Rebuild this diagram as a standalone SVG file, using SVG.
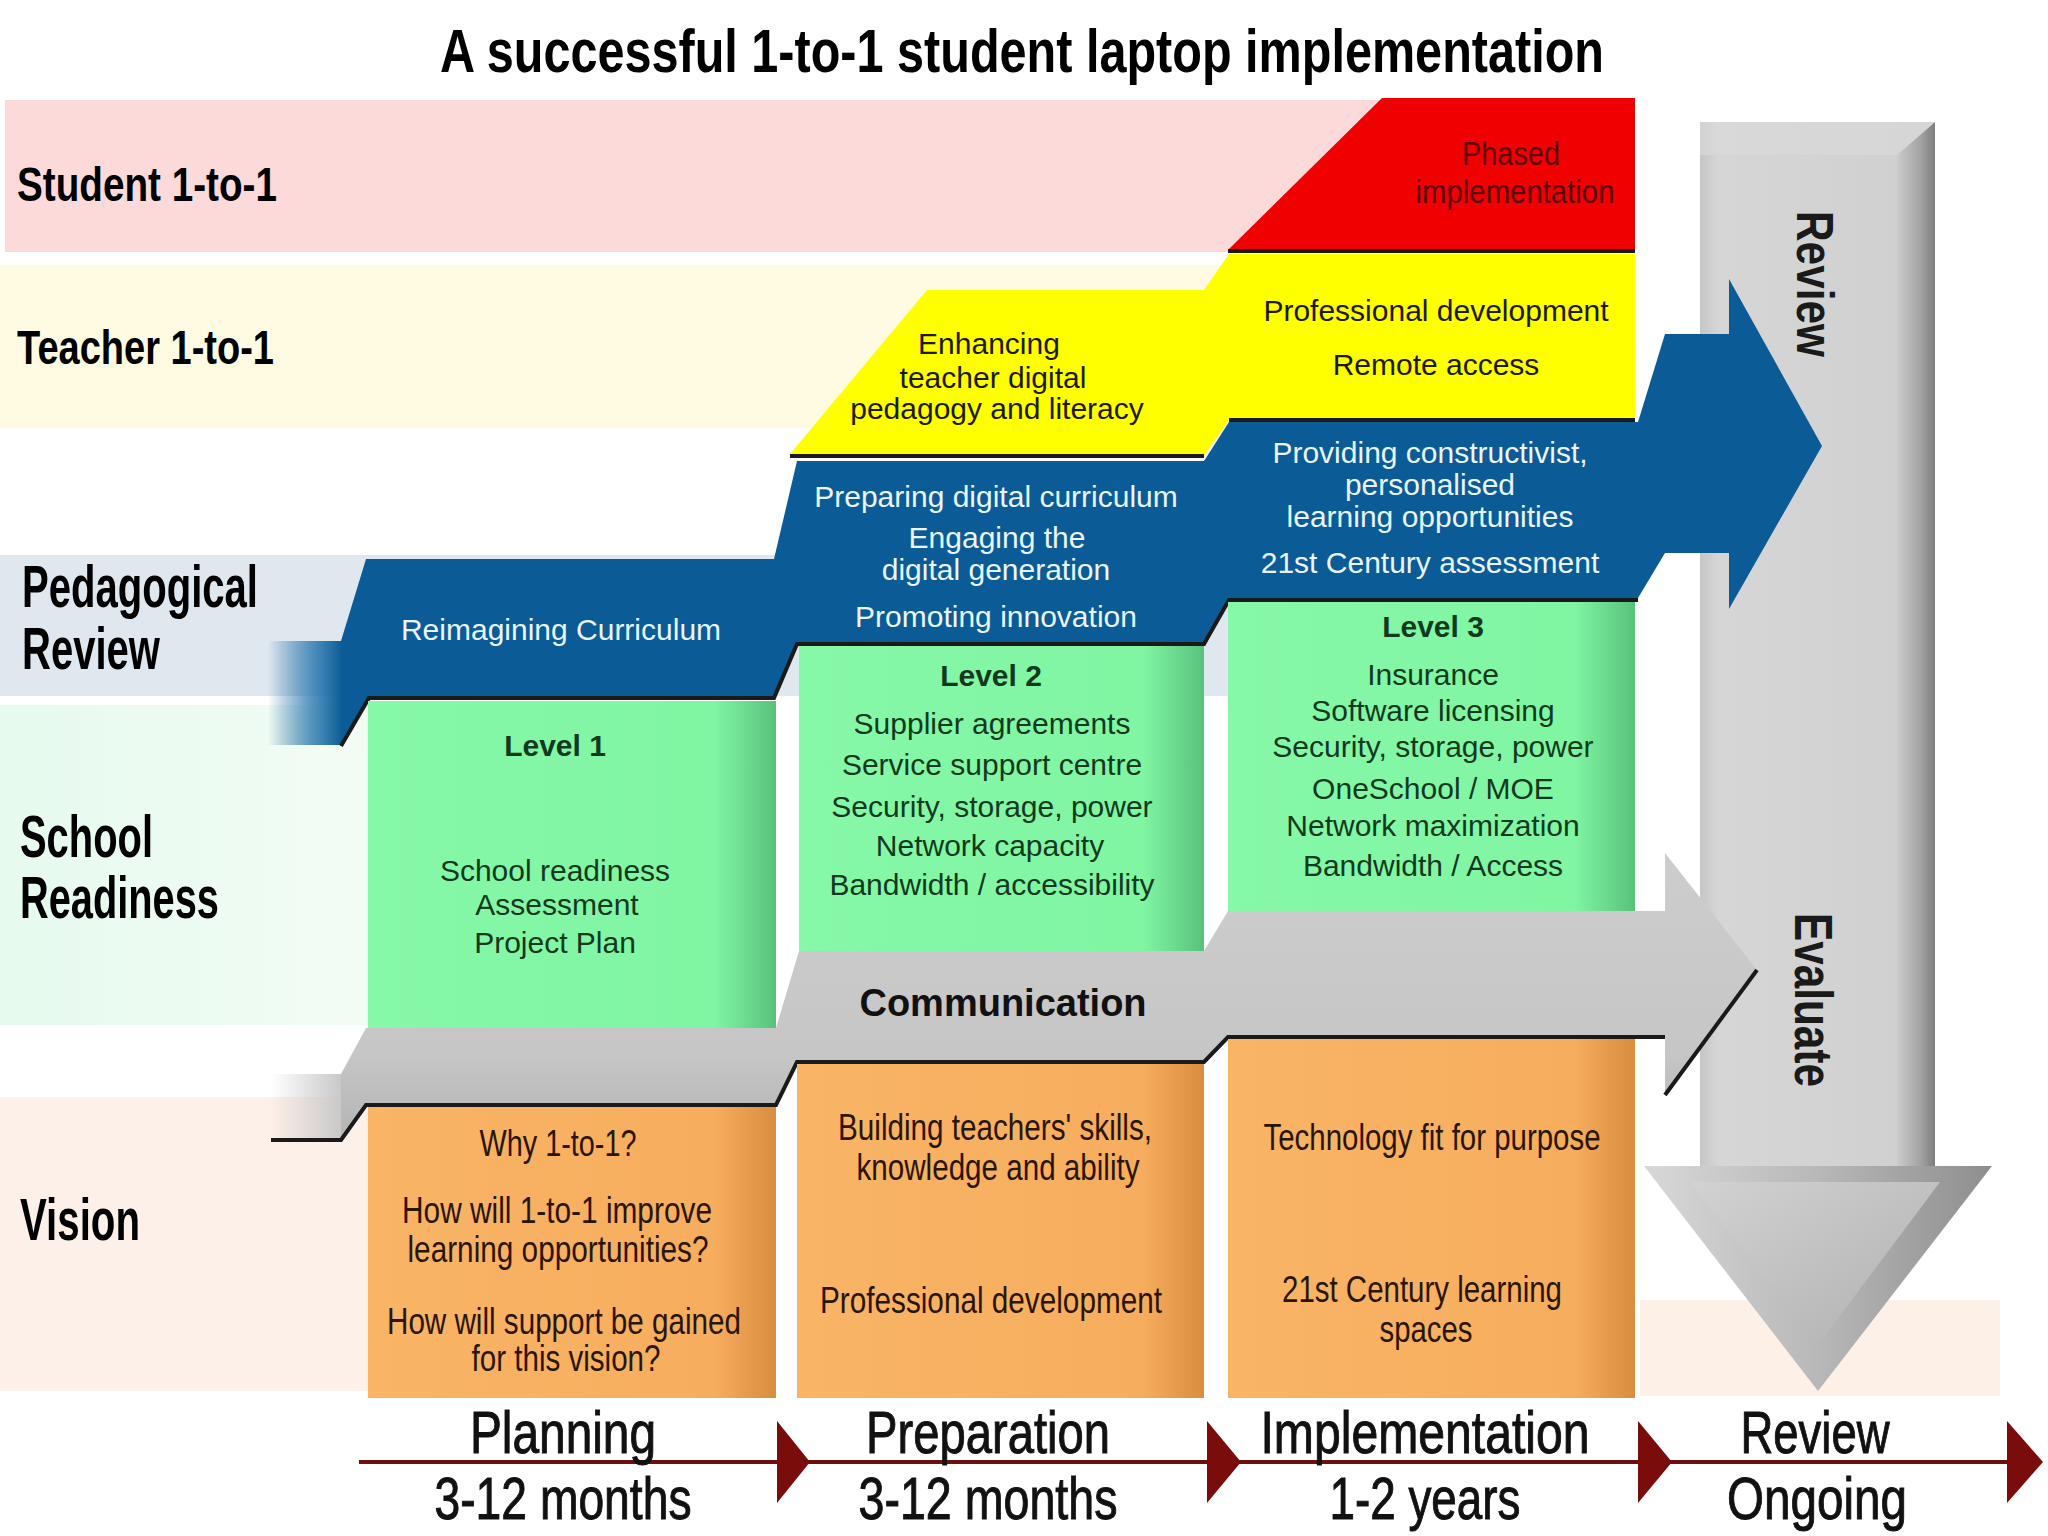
<svg xmlns="http://www.w3.org/2000/svg" width="2048" height="1536" viewBox="0 0 2048 1536">
<defs>
<style>
text{font-family:"Liberation Sans",Arial,sans-serif}
.b{font-weight:bold}
.lbl{font-weight:bold;fill:#000}
.wt{fill:#eaf4fb;font-size:30px}
.gt{fill:#123a1e;font-size:30px}
.yt{fill:#1c1a00;font-size:30px}
.ot{fill:#2a1600;font-size:36px}
.rt{fill:#5e0000;font-size:34px}
.ph{fill:#111;font-size:60px;stroke:#111;stroke-width:1}
.edge{fill:none;stroke:#1a1a1a;stroke-width:4}
</style>
<linearGradient id="gGreen" x1="0" x2="1" y1="0" y2="0">
<stop offset="0" stop-color="#86f8a8"/><stop offset="0.85" stop-color="#80f5a2"/><stop offset="1" stop-color="#58c27c"/>
</linearGradient>
<linearGradient id="gOrange" x1="0" x2="1" y1="0" y2="0">
<stop offset="0" stop-color="#f9b466"/><stop offset="0.85" stop-color="#f7ad5e"/><stop offset="1" stop-color="#d98d3e"/>
</linearGradient>
<linearGradient id="gBlueStub" x1="0" x2="1" y1="0" y2="0">
<stop offset="0" stop-color="#0b5c96" stop-opacity="0"/><stop offset="0.6" stop-color="#2a78b0" stop-opacity="0.8"/><stop offset="1" stop-color="#0b5c96"/>
</linearGradient>
<linearGradient id="gGrayStub" x1="0" x2="1" y1="0" y2="0">
<stop offset="0" stop-color="#c8c8c8" stop-opacity="0"/><stop offset="1" stop-color="#c8c8c8"/>
</linearGradient>
<linearGradient id="gGray" x1="0" x2="0" y1="0" y2="1">
<stop offset="0" stop-color="#cdcdcd"/><stop offset="0.7" stop-color="#c6c6c6"/><stop offset="1" stop-color="#b4b4b4"/>
</linearGradient>
<linearGradient id="gShaft" x1="0" x2="1" y1="0" y2="0">
<stop offset="0" stop-color="#c6c6c6"/><stop offset="0.08" stop-color="#d6d6d6"/><stop offset="1" stop-color="#cfcfcf"/>
</linearGradient>
<linearGradient id="gStrip" x1="0" x2="1" y1="0" y2="0">
<stop offset="0" stop-color="#cccccc"/><stop offset="0.6" stop-color="#a4a4a4"/><stop offset="1" stop-color="#7e7e7e"/>
</linearGradient>
<linearGradient id="gHead" x1="0" x2="1" y1="0" y2="0">
<stop offset="0" stop-color="#d8d8d8"/><stop offset="0.5" stop-color="#b8b8b8"/><stop offset="1" stop-color="#8e8e8e"/>
</linearGradient>
<linearGradient id="gHeadIn" x1="0" x2="1" y1="0" y2="1">
<stop offset="0" stop-color="#d2d2d2"/><stop offset="1" stop-color="#b0b0b0"/>
</linearGradient>
<linearGradient id="gMint" x1="0" x2="1" y1="0" y2="0">
<stop offset="0" stop-color="#e6faee"/><stop offset="1" stop-color="#f2fcf5"/>
</linearGradient>
</defs>

<rect width="2048" height="1536" fill="#ffffff"/>

<g id="backgrounds">
<rect x="5" y="100" width="1630" height="152" fill="#fcdada"/>
<rect x="0" y="265" width="1230" height="163" fill="#fefbe2"/>
<rect x="0" y="555" width="1230" height="141" fill="#dfe8ef"/>
<rect x="0" y="705" width="370" height="320" fill="url(#gMint)"/>
<rect x="0" y="1097" width="370" height="294" fill="#fdf0e8"/>
<rect x="1640" y="1300" width="360" height="96" fill="#fdf1e7"/>
</g>

<g id="title">
<text x="1022" y="72" text-anchor="middle" class="b" font-size="62" textLength="1164" lengthAdjust="spacingAndGlyphs">A successful 1-to-1 student laptop implementation</text>
</g>

<g id="row-labels">
<text x="17" y="201" class="lbl" font-size="48" textLength="260" lengthAdjust="spacingAndGlyphs">Student 1-to-1</text>
<text x="17" y="364" class="lbl" font-size="48" textLength="257" lengthAdjust="spacingAndGlyphs">Teacher 1-to-1</text>
<text x="22" y="607" class="lbl" font-size="60" textLength="236" lengthAdjust="spacingAndGlyphs">Pedagogical</text>
<text x="22" y="669" class="lbl" font-size="60" textLength="138" lengthAdjust="spacingAndGlyphs">Review</text>
<text x="20" y="857" class="lbl" font-size="60" textLength="133" lengthAdjust="spacingAndGlyphs">School</text>
<text x="20" y="918" class="lbl" font-size="60" textLength="199" lengthAdjust="spacingAndGlyphs">Readiness</text>
<text x="20" y="1240" class="lbl" font-size="60" textLength="120" lengthAdjust="spacingAndGlyphs">Vision</text>
</g>

<g id="review-arrow">
<polygon points="1700,122 1935,122 1935,1168 1700,1168" fill="url(#gShaft)"/>
<polygon points="1897,155 1935,122 1935,1168 1897,1168" fill="url(#gStrip)"/>
<polygon points="1700,122 1935,122 1897,155 1700,155" fill="#dadada" opacity="0.6"/>
<polygon points="1644,1166 1992,1166 1818,1391" fill="url(#gHead)"/>
<polygon points="1690,1182 1940,1182 1818,1345" fill="url(#gHeadIn)"/>
<text transform="translate(1797,284) rotate(90)" text-anchor="middle" class="b" font-size="52" fill="#1a1a1a" textLength="146" lengthAdjust="spacingAndGlyphs">Review</text>
<text transform="translate(1795,1000) rotate(90)" text-anchor="middle" class="b" font-size="54" fill="#1a1a1a" textLength="174" lengthAdjust="spacingAndGlyphs">Evaluate</text>
</g>

<g id="student-phased">
<polygon points="1228,250 1382,98 1635,98 1635,250" fill="#f00000"/>
<line x1="1228" y1="251" x2="1635" y2="251" class="edge"/>
<text x="1511" y="165" text-anchor="middle" class="rt" textLength="98" lengthAdjust="spacingAndGlyphs">Phased</text>
<text x="1515" y="203" text-anchor="middle" class="rt" textLength="199" lengthAdjust="spacingAndGlyphs">implementation</text>
</g>

<g id="teacher-2">
<polygon points="790,454 927,290 1204,290 1204,454" fill="#ffff00"/>
<line x1="790" y1="456" x2="1204" y2="456" class="edge"/>
<text x="989" y="354" text-anchor="middle" class="yt">Enhancing</text>
<text x="993" y="388" text-anchor="middle" class="yt">teacher digital</text>
<text x="997" y="419" text-anchor="middle" class="yt">pedagogy and literacy</text>
</g>

<g id="teacher-3">
<polygon points="1204,290 1229,254 1635,254 1635,420 1229,420 1204,456" fill="#ffff00"/>
<line x1="1229" y1="420" x2="1635" y2="420" class="edge"/>
<text x="1436" y="321" text-anchor="middle" class="yt">Professional development</text>
<text x="1436" y="375" text-anchor="middle" class="yt">Remote access</text>
</g>

<g id="pedagogical-band">
<rect x="268" y="641" width="74" height="104" fill="url(#gBlueStub)"/>
<polygon points="341,641 366,559 774,559 797,461 1204,461 1229,422 1638,422 1665,334 1729,334 1729,279 1822,446 1729,609 1729,553 1665,553 1638,598 1229,598 1204,642 797,642 774,697 369,697 341,745" fill="#0b5c96"/>
<polyline points="341,746 369,698 774,698 797,644 1204,644 1229,600 1638,600" class="edge" stroke="#0d2236"/>
<text x="561" y="640" text-anchor="middle" class="wt">Reimagining Curriculum</text>
<text x="996" y="507" text-anchor="middle" class="wt">Preparing digital curriculum</text>
<text x="997" y="548" text-anchor="middle" class="wt">Engaging the</text>
<text x="996" y="580" text-anchor="middle" class="wt">digital generation</text>
<text x="996" y="627" text-anchor="middle" class="wt">Promoting innovation</text>
<text x="1430" y="463" text-anchor="middle" class="wt">Providing constructivist,</text>
<text x="1430" y="495" text-anchor="middle" class="wt">personalised</text>
<text x="1430" y="527" text-anchor="middle" class="wt">learning opportunities</text>
<text x="1430" y="573" text-anchor="middle" class="wt">21st Century assessment</text>
</g>

<g id="readiness-1">
<rect x="368" y="701" width="408" height="327" fill="url(#gGreen)"/>
<text x="555" y="756" text-anchor="middle" class="gt b">Level 1</text>
<text x="555" y="881" text-anchor="middle" class="gt">School readiness</text>
<text x="557" y="915" text-anchor="middle" class="gt">Assessment</text>
<text x="555" y="953" text-anchor="middle" class="gt">Project Plan</text>
</g>

<g id="readiness-2">
<rect x="799" y="646" width="405" height="305" fill="url(#gGreen)"/>
<text x="991" y="686" text-anchor="middle" class="gt b">Level 2</text>
<text x="992" y="734" text-anchor="middle" class="gt">Supplier agreements</text>
<text x="992" y="775" text-anchor="middle" class="gt">Service support centre</text>
<text x="992" y="817" text-anchor="middle" class="gt">Security, storage, power</text>
<text x="990" y="856" text-anchor="middle" class="gt">Network capacity</text>
<text x="992" y="895" text-anchor="middle" class="gt">Bandwidth / accessibility</text>
</g>

<g id="readiness-3">
<rect x="1228" y="602" width="407" height="309" fill="url(#gGreen)"/>
<text x="1433" y="637" text-anchor="middle" class="gt b">Level 3</text>
<text x="1433" y="685" text-anchor="middle" class="gt">Insurance</text>
<text x="1433" y="721" text-anchor="middle" class="gt">Software licensing</text>
<text x="1433" y="757" text-anchor="middle" class="gt">Security, storage, power</text>
<text x="1433" y="799" text-anchor="middle" class="gt">OneSchool / MOE</text>
<text x="1433" y="836" text-anchor="middle" class="gt">Network maximization</text>
<text x="1433" y="876" text-anchor="middle" class="gt">Bandwidth / Access</text>
</g>

<g id="communication-band">
<rect x="271" y="1074" width="71" height="65" fill="url(#gGrayStub)"/>
<polygon points="341,1074 366,1028 776,1028 799,951 1204,951 1228,911 1665,911 1665,853 1757,970 1665,1095 1665,1036 1228,1036 1204,1061 797,1061 776,1104 366,1104 341,1139" fill="url(#gGray)"/>
<polyline points="271,1140 341,1140 366,1105 776,1105 797,1062 1204,1062 1228,1037 1665,1037" class="edge"/>
<line x1="1757" y1="970" x2="1665" y2="1095" class="edge"/>
<text x="1003" y="1016" text-anchor="middle" class="b" font-size="38" fill="#111">Communication</text>
</g>

<g id="vision-1">
<rect x="368" y="1107" width="408" height="291" fill="url(#gOrange)"/>
<text x="558" y="1156" text-anchor="middle" class="ot" textLength="157" lengthAdjust="spacingAndGlyphs">Why 1-to-1?</text>
<text x="557" y="1223" text-anchor="middle" class="ot" textLength="310" lengthAdjust="spacingAndGlyphs">How will 1-to-1 improve</text>
<text x="558" y="1262" text-anchor="middle" class="ot" textLength="301" lengthAdjust="spacingAndGlyphs">learning opportunities?</text>
<text x="564" y="1334" text-anchor="middle" class="ot" textLength="354" lengthAdjust="spacingAndGlyphs">How will support be gained</text>
<text x="566" y="1371" text-anchor="middle" class="ot" textLength="189" lengthAdjust="spacingAndGlyphs">for this vision?</text>
</g>

<g id="vision-2">
<rect x="797" y="1064" width="407" height="334" fill="url(#gOrange)"/>
<text x="995" y="1140" text-anchor="middle" class="ot" textLength="314" lengthAdjust="spacingAndGlyphs">Building teachers' skills,</text>
<text x="998" y="1180" text-anchor="middle" class="ot" textLength="283" lengthAdjust="spacingAndGlyphs">knowledge and ability</text>
<text x="991" y="1313" text-anchor="middle" class="ot" textLength="342" lengthAdjust="spacingAndGlyphs">Professional development</text>
</g>

<g id="vision-3">
<rect x="1228" y="1039" width="407" height="359" fill="url(#gOrange)"/>
<text x="1432" y="1150" text-anchor="middle" class="ot" textLength="337" lengthAdjust="spacingAndGlyphs">Technology fit for purpose</text>
<text x="1422" y="1302" text-anchor="middle" class="ot" textLength="280" lengthAdjust="spacingAndGlyphs">21st Century learning</text>
<text x="1426" y="1342" text-anchor="middle" class="ot" textLength="93" lengthAdjust="spacingAndGlyphs">spaces</text>
</g>

<g id="connectors">
<line x1="359" y1="1462" x2="2010" y2="1462" stroke="#6e0e0e" stroke-width="4"/>
<polygon points="777,1421 810,1462 777,1503" fill="#7a0c0c"/>
<polygon points="1207,1421 1241,1462 1207,1503" fill="#7a0c0c"/>
<polygon points="1638,1421 1672,1462 1638,1503" fill="#7a0c0c"/>
<polygon points="2007,1421 2043,1462 2007,1503" fill="#7a0c0c"/>
</g>

<g id="phase-planning">
<text x="563" y="1453" text-anchor="middle" class="ph" textLength="186" lengthAdjust="spacingAndGlyphs">Planning</text>
<text x="563" y="1519" text-anchor="middle" class="ph" textLength="257" lengthAdjust="spacingAndGlyphs">3-12 months</text>
</g>
<g id="phase-preparation">
<text x="988" y="1453" text-anchor="middle" class="ph" textLength="244" lengthAdjust="spacingAndGlyphs">Preparation</text>
<text x="988" y="1519" text-anchor="middle" class="ph" textLength="259" lengthAdjust="spacingAndGlyphs">3-12 months</text>
</g>
<g id="phase-implementation">
<text x="1425" y="1453" text-anchor="middle" class="ph" textLength="329" lengthAdjust="spacingAndGlyphs">Implementation</text>
<text x="1425" y="1519" text-anchor="middle" class="ph" textLength="191" lengthAdjust="spacingAndGlyphs">1-2 years</text>
</g>
<g id="phase-review">
<text x="1815" y="1453" text-anchor="middle" class="ph" textLength="149" lengthAdjust="spacingAndGlyphs">Review</text>
<text x="1817" y="1519" text-anchor="middle" class="ph" textLength="180" lengthAdjust="spacingAndGlyphs">Ongoing</text>
</g>
</svg>
